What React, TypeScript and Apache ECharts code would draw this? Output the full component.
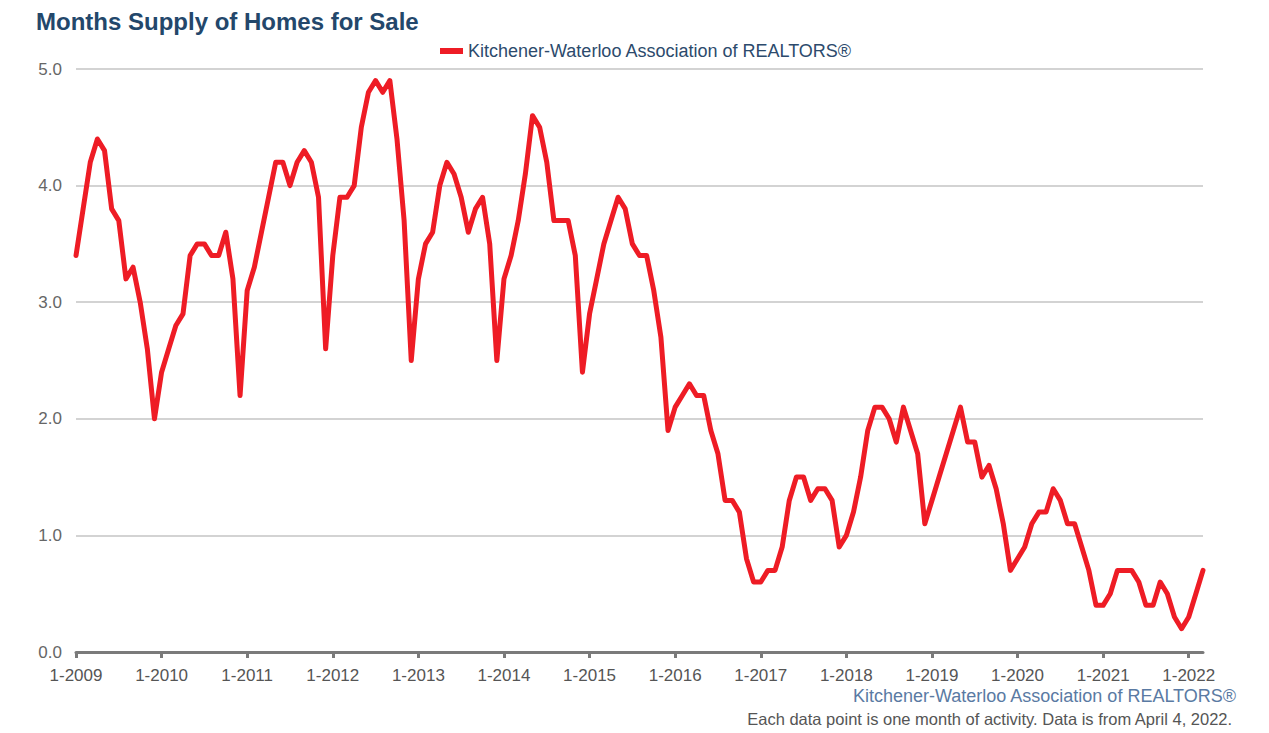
import React, { useEffect, useRef } from "react";
import * as echarts from "echarts";

const startYear = 2009;
const months: string[] = [];
for (let i = 0; i < 159; i++) {
  months.push(`${(i % 12) + 1}-${startYear + Math.floor(i / 12)}`);
}

const supply2009 = [3.4, 3.8, 4.2, 4.4, 4.3, 3.8, 3.7, 3.2, 3.3, 3.0, 2.6, 2.0];
const supply2010 = [2.4, 2.6, 2.8, 2.9, 3.4, 3.5, 3.5, 3.4, 3.4, 3.6, 3.2, 2.2];
const supply2011 = [3.1, 3.3, 3.6, 3.9, 4.2, 4.2, 4.0, 4.2, 4.3, 4.2, 3.9, 2.6];
const supply2012 = [3.4, 3.9, 3.9, 4.0, 4.5, 4.8, 4.9, 4.8, 4.9, 4.4, 3.7, 2.5];
const supply2013 = [3.2, 3.5, 3.6, 4.0, 4.2, 4.1, 3.9, 3.6, 3.8, 3.9, 3.5, 2.5];
const supply2014 = [3.2, 3.4, 3.7, 4.1, 4.6, 4.5, 4.2, 3.7, 3.7, 3.7, 3.4, 2.4];
const supply2015 = [2.9, 3.2, 3.5, 3.7, 3.9, 3.8, 3.5, 3.4, 3.4, 3.1, 2.7, 1.9];
const supply2016 = [2.1, 2.2, 2.3, 2.2, 2.2, 1.9, 1.7, 1.3, 1.3, 1.2, 0.8, 0.6];
const supply2017 = [0.6, 0.7, 0.7, 0.9, 1.3, 1.5, 1.5, 1.3, 1.4, 1.4, 1.3, 0.9];
const supply2018 = [1.0, 1.2, 1.5, 1.9, 2.1, 2.1, 2.0, 1.8, 2.1, 1.9, 1.7, 1.1];
const supply2019 = [1.3, 1.5, 1.7, 1.9, 2.1, 1.8, 1.8, 1.5, 1.6, 1.4, 1.1, 0.7];
const supply2020 = [0.8, 0.9, 1.1, 1.2, 1.2, 1.4, 1.3, 1.1, 1.1, 0.9, 0.7, 0.4];
const supply2021 = [0.4, 0.5, 0.7, 0.7, 0.7, 0.6, 0.4, 0.4, 0.6, 0.5, 0.3, 0.2];
const supply2022 = [0.3, 0.5, 0.7];

const supply = [
  ...supply2009, ...supply2010, ...supply2011, ...supply2012, ...supply2013,
  ...supply2014, ...supply2015, ...supply2016, ...supply2017, ...supply2018,
  ...supply2019, ...supply2020, ...supply2021, ...supply2022,
];

const seriesName = "Kitchener-Waterloo Association of REALTORS®";
const titleText = "Months Supply of Homes for Sale";
const sourceText = "Kitchener-Waterloo Association of REALTORS®";
const noteText = "Each data point is one month of activity. Data is from April 4, 2022.";

const FONT = "'Liberation Sans', Arial, sans-serif";

export default function App() {
  const ref = useRef<HTMLDivElement>(null);
  useEffect(() => {
    if (!ref.current) return;
    const chart = echarts.init(ref.current, null, { renderer: "svg" });
    const isJan = (i: number) => i % 12 === 0;
    chart.setOption({
      animation: false,
      backgroundColor: "#ffffff",
      textStyle: { fontFamily: FONT },
      title: {
        text: titleText,
        left: 31,
        top: 4,
        textStyle: { fontSize: 24, fontWeight: "bold", color: "#23476b", fontFamily: FONT },
      },
      legend: {
        left: 435,
        top: 37,
        icon: "rect",
        itemWidth: 23,
        itemHeight: 6,
        itemGap: 10,
        textStyle: { fontSize: 18, color: "#2c4a6c", fontFamily: FONT },
        data: [seriesName],
      },
      grid: { left: 76, right: 66, top: 69, bottom: 81, containLabel: false },
      xAxis: {
        type: "category",
        data: months,
        boundaryGap: false,
        axisLine: { lineStyle: { color: "#7a7a7a", width: 3 } },
        axisTick: {
          interval: (i: number) => isJan(i),
          length: 6,
          lineStyle: { color: "#7a7a7a", width: 3 },
        },
        axisLabel: {
          interval: (i: number) => isJan(i),
          color: "#555555",
          fontSize: 17,
          margin: 15,
          fontFamily: FONT,
        },
        splitLine: { show: false },
      },
      yAxis: {
        type: "value",
        min: 0,
        max: 5,
        interval: 1,
        axisLine: { show: false },
        axisTick: { show: false },
        axisLabel: {
          formatter: (v: number) => v.toFixed(1),
          color: "#666666",
          fontSize: 17,
          margin: 14,
          fontFamily: FONT,
        },
        splitLine: { lineStyle: { color: "#c4c4c4", width: 1.5 } },
      },
      series: [
        {
          name: seriesName,
          type: "line",
          data: supply,
          showSymbol: false,
          symbol: "none",
          lineStyle: { color: "#ee1c25", width: 5, cap: "round", join: "round" },
          itemStyle: { color: "#ee1c25" },
        },
      ],
      graphic: [
        {
          type: "text",
          right: 32,
          top: 687,
          style: { text: sourceText, fontSize: 18, fill: "#5a7aa3", fontFamily: FONT },
        },
        {
          type: "text",
          right: 36,
          top: 710,
          style: { text: noteText, fontSize: 16.5, fill: "#555555", fontFamily: FONT },
        },
      ],
    });
    return () => chart.dispose();
  }, []);
  return (
    <div
      ref={ref}
      style={{ position: "fixed", left: 0, top: 0, width: 1269, height: 733 }}
    />
  );
}
